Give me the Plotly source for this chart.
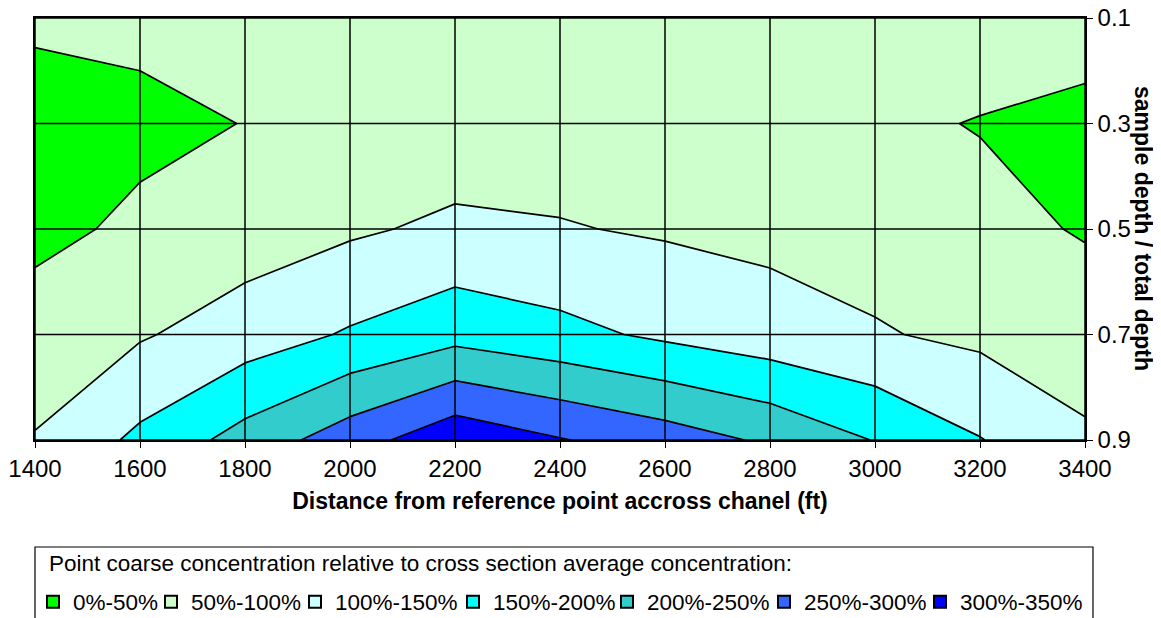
import plotly.graph_objects as go

# ---- data ----
distance_ft = [1400, 1600, 1800, 2000, 2200, 2400, 2600, 2800, 3000, 3200, 3400]
depth_ratio = [0.1, 0.3, 0.5, 0.7, 0.9]

conc_d01 = [61.7, 60.4, 62.0, 65.0, 65.0, 68.0, 68.0, 70.0, 72.0, 71.0, 74.5]
conc_d03 = [20.0, 39.6, 50.9, 60.0, 69.0, 75.0, 70.0, 65.0, 57.0, 48.3, 35.0]
conc_d05 = [38.5, 58.3, 74.5, 93.0, 109.7, 103.0, 94.7, 87.5, 80.0, 61.4, 47.0]
conc_d07 = [70.0, 95.2, 124.6, 155.0, 183.0, 164.0, 141.0, 121.3, 104.0, 89.5, 70.0]
conc_d09 = [103.0, 161.0, 219.0, 277.0, 336.0, 303.0, 275.0, 242.0, 198.0, 152.0, 108.5]

band_labels = ["0%-50%", "50%-100%", "100%-150%", "150%-200%",
               "200%-250%", "250%-300%", "300%-350%"]
band_colors = ["#00FF00", "#CCFFCC", "#CCFFFF", "#00FFFF",
               "#33CCCC", "#3366FF", "#0000FF"]
# legend entry text widths (px) used to space the legend like the original
legend_entry_widths = [73, 99, 113, 109, 112, 111, 131]
legend_title = "Point coarse concentration relative to cross section average concentration:"

x_ticks = [1400, 1600, 1800, 2000, 2200, 2400, 2600, 2800, 3000, 3200, 3400]
y_ticks = [0.1, 0.3, 0.5, 0.7, 0.9]

FONT = "Liberation Sans, Arial, sans-serif"

z = [conc_d01, conc_d03, conc_d05, conc_d07, conc_d09]
n = len(band_colors)
colorscale = [[i / (n - 1), c] for i, c in enumerate(band_colors)]

fig = go.Figure()
fig.add_trace(go.Contour(
    x=distance_ft, y=depth_ratio, z=z,
    contours=dict(start=50, end=300, size=50, coloring="fill", showlines=True),
    line=dict(color="black", width=1.7, smoothing=0),
    colorscale=colorscale, showscale=False, showlegend=False,
    hoverinfo="skip",
))

for lab, col, lw in zip(band_labels, band_colors, legend_entry_widths):
    fig.add_trace(go.Scatter(
        x=[None], y=[None], mode="markers", name=lab, legendwidth=lw,
        marker=dict(symbol="square", size=13, color=col,
                    line=dict(color="black", width=1)),
    ))

shapes = []
for xv in x_ticks:
    shapes.append(dict(type="line", xref="x", yref="y domain", x0=xv, x1=xv,
                       y0=0, y1=1, line=dict(color="black", width=1.5), layer="above"))
for yv in y_ticks:
    shapes.append(dict(type="line", xref="x domain", yref="y", x0=0, x1=1,
                       y0=yv, y1=yv, line=dict(color="black", width=1.5), layer="above"))
# legend frame
shapes.append(dict(type="rect", xref="paper", yref="paper", x0=0, x1=1.0076,
                   y0=-0.47, y1=-0.2536, line=dict(color="black", width=1.2),
                   fillcolor="white", layer="below"))

fig.update_layout(
    width=1153, height=610,
    margin=dict(l=27, r=76, t=10, b=178, autoexpand=False),
    paper_bgcolor="white", plot_bgcolor="white",
    font=dict(family=FONT, size=23, color="black"),
    shapes=shapes,
    xaxis=dict(range=[1400, 3400], tickvals=x_ticks, ticks="outside", ticklen=6,
               tickcolor="black", showgrid=False, zeroline=False, automargin=False,
               showline=True, linecolor="black", linewidth=1.5, mirror=True,
               tickfont=dict(size=24), ticklabeloverflow="allow",
               title=dict(text="<b>Distance from reference point accross chanel (ft)</b>",
                          font=dict(size=23), standoff=12)),
    yaxis=dict(range=[0.9, 0.1], tickvals=y_ticks, ticktext=[str(v) for v in y_ticks],
               side="right", ticks="outside", ticklen=6, tickcolor="black",
               showgrid=False, zeroline=False, automargin=False,
               showline=True, linecolor="black", linewidth=1.5, mirror=True,
               tickfont=dict(size=24), ticklabeloverflow="allow"),
    legend=dict(orientation="h", x=-0.0019, xanchor="left", y=-0.3839, yanchor="middle",
                borderwidth=0, bgcolor="rgba(0,0,0,0)",
                font=dict(size=22.5), itemsizing="constant", tracegroupgap=0),
    annotations=[
        dict(text="<b>sample depth / total depth</b>", xref="paper", yref="paper",
             x=1.0552, y=0.5, xanchor="center", yanchor="middle",
             textangle=90, showarrow=False, font=dict(size=23)),
        dict(text=legend_title, xref="paper", yref="paper",
             x=0.0117, y=-0.2915, xanchor="left", yanchor="middle",
             showarrow=False, font=dict(size=22.5)),
    ],
)

fig.write_html("out.html")
